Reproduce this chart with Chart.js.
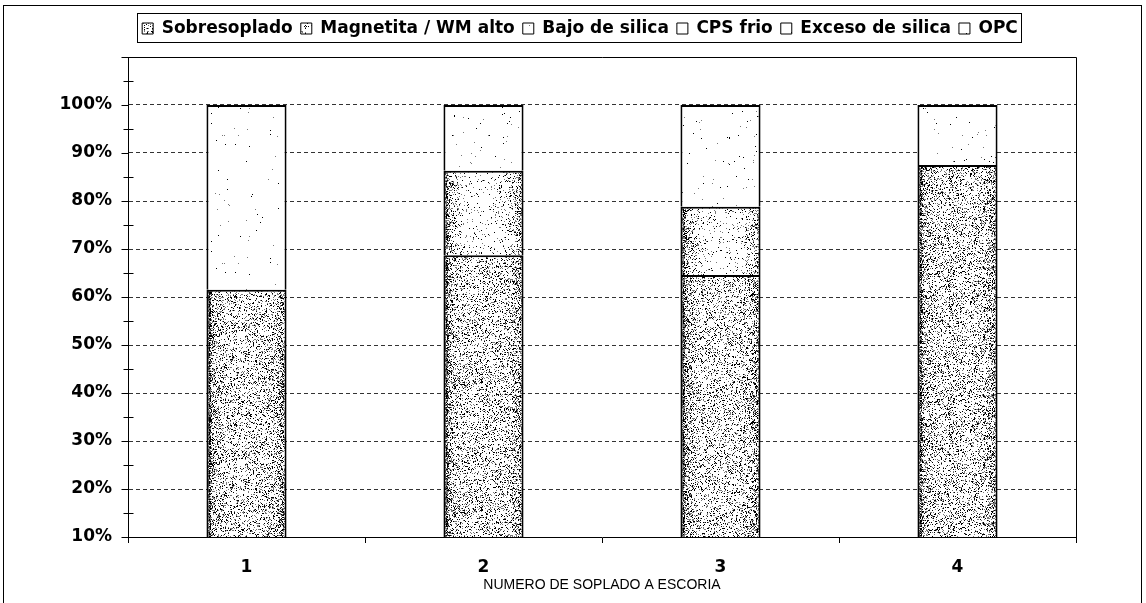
<!DOCTYPE html>
<html>
<head>
<meta charset="utf-8">
<script src="https://cdn.jsdelivr.net/npm/chart.js@4.4.0/dist/chart.umd.min.js"></script>
<style>
  html, body { margin: 0; padding: 0; background: #fff; }
  canvas { display: block; }
</style>
</head>
<body>
<canvas id="myChart" width="1146" height="603"></canvas>
<script>
const categories = ['1', '2', '3', '4'];
const seriesNames = ['Sobresoplado', 'Magnetita / WM alto', 'Bajo de silica', 'CPS frio', 'Exceso de silica', 'OPC'];
const sobresoplado = [61.5, 68.7, 64.6, 87.5];
const magnetita = [0, 17.6, 14.2, 0];
const bajoSilica = [0, 0, 0, 0];
const cpsFrio = [0, 0, 0, 0];
const excesoSilica = [0, 0, 0, 0];
const opc = [38.5, 13.7, 21.2, 12.5];
const yLabelValues = [10, 20, 30, 40, 50, 60, 70, 80, 90, 100];

const barPct = 0.338;

// stipple density across a bar (x in px from left edge, w = bar width)
const densities = [
  (x, w) => { const d = Math.min(x, w - 1 - x); return 0.22 + 0.45 * Math.exp(-d / 6) + (x < 4 ? 0.3 : 0); },
  (x, w) => { const d = Math.min(x, w - 1 - x); return 0.04 + 0.55 * Math.exp(-d / 9) + (x < 4 ? 0.3 : 0); },
  () => 0.004,
  () => 0.004,
  () => 0.004,
  () => 0.006,
];

function noise(x, y) {
  let h = (x * 374761393 + y * 668265263) | 0;
  h = Math.imul(h ^ (h >>> 13), 1274126177);
  return ((h ^ (h >>> 16)) >>> 0) / 4294967296;
}

const patternCache = {};
function stipplePattern(ctx2d, series, left, w) {
  const key = series + ':' + left + ':' + w;
  if (patternCache[key]) return patternCache[key];
  const h = 128;
  const tile = document.createElement('canvas');
  tile.width = w; tile.height = h;
  const t = tile.getContext('2d');
  const img = t.createImageData(w, h);
  for (let y = 0; y < h; y++) {
    for (let x = 0; x < w; x++) {
      const dens = densities[series](x, w);
      const n = noise(x + left * 3, y + series * 977);
      let v = 255;
      if (n < dens) v = n < dens * 0.5 ? 0 : 120;
      const i = (y * w + x) * 4;
      img.data[i] = img.data[i + 1] = img.data[i + 2] = v;
      img.data[i + 3] = 255;
    }
  }
  t.putImageData(img, 0, 0);
  const p = ctx2d.createPattern(tile, 'repeat');
  p.setTransform(new DOMMatrix().translate(left, 0));
  patternCache[key] = p;
  return p;
}

function barFill(c) {
  const chart = c.chart;
  const xs = chart.scales.x;
  const idx = c.dataIndex ?? 0;
  let w = 80, left = 0;
  if (xs && xs.width > 0) {
    w = Math.round(xs.width / categories.length * barPct);
    left = Math.round(xs.getPixelForValue(idx) - w / 2);
  }
  return stipplePattern(chart.ctx, c.datasetIndex, left, w);
}

const seriesData = [sobresoplado, magnetita, bajoSilica, cpsFrio, excesoSilica, opc];

const chartDecor = {
  id: 'chartDecor',
  beforeLayout(chart) {
    const lg = chart.legend;
    if (lg && !lg._fixed) {
      const fit = lg.fit;
      lg.fit = function () { fit.call(this); this.height = 45; };
      lg._fixed = true;
    }
  },
  afterLayout(chart) {
    // nudge the legend row a little to the right
    chart.legend.left += 22;
    chart.legend.right += 22;
  },
  afterDraw(chart) {
    const { ctx, chartArea: a } = chart;
    const y = chart.scales.y;
    ctx.save();
    ctx.strokeStyle = '#000';
    ctx.lineWidth = 1;
    // top and right edges of the plot
    ctx.beginPath();
    ctx.moveTo(a.left, Math.round(a.top) + 0.5);
    ctx.lineTo(Math.round(a.right) + 0.5, Math.round(a.top) + 0.5);
    ctx.lineTo(Math.round(a.right) + 0.5, a.bottom);
    ctx.stroke();
    // y tick marks, minor ones cross the axis
    const ax = Math.round(a.left) + 0.5;
    ctx.beginPath();
    y.ticks.forEach(t => {
      const py = Math.round(y.getPixelForValue(t.value)) + 0.5;
      if (t.value % 10 === 0) { ctx.moveTo(ax - 7, py); ctx.lineTo(ax, py); }
      else { ctx.moveTo(ax - 5, py); ctx.lineTo(ax + 5, py); }
    });
    ctx.stroke();
    // legend frame
    const hb = chart.legend.legendHitBoxes;
    if (hb && hb.length) {
      const first = hb[0], last = hb[hb.length - 1];
      const l = Math.round(first.left) - 4.5;
      const r = Math.round(last.left + last.width) + 3.5;
      const tp = Math.round(first.top) - 6.5;
      const bt = Math.round(first.top + first.height) + 5.5;
      ctx.strokeRect(l, tp, r - l, bt - tp);
    }
    // outer frame
    ctx.strokeRect(3.5, 5.5, 1138, 700);
    ctx.restore();
  }
};

const ctx = document.getElementById('myChart').getContext('2d');
new Chart(ctx, {
  type: 'bar',
  data: {
    labels: categories,
    datasets: seriesNames.map((name, i) => ({
      label: name,
      data: seriesData[i],
      backgroundColor: barFill,
      borderColor: '#000',
      borderWidth: (c) => (c.raw === 0 ? 0 : 2),
      barPercentage: barPct,
      categoryPercentage: 1,
    })),
  },
  options: {
    responsive: false,
    animation: false,
    devicePixelRatio: 1,
    layout: { padding: { top: 12, right: 70, bottom: 0, left: 40 } },
    plugins: {
      tooltip: { enabled: false },
      legend: {
        position: 'top',
        labels: {
          color: '#000',
          font: { family: 'DejaVu Sans', size: 17, weight: 'bold' },
          boxWidth: 11,
          boxHeight: 11,
          padding: 8,
          generateLabels: (chart) => Chart.defaults.plugins.legend.labels.generateLabels(chart)
            .map(l => ({ ...l, lineWidth: 1, strokeStyle: '#000' })),
        },
      },
    },
    scales: {
      x: {
        stacked: true,
        afterFit: (s) => { s.height = 66; },
        grid: { display: true, drawOnChartArea: false, drawTicks: true, tickLength: 6, color: '#000', offset: true },
        border: { display: true, color: '#000', width: 1 },
        ticks: { color: '#000', padding: 14, font: { family: 'DejaVu Sans', size: 17, weight: 'bold' } },
        title: {
          display: true,
          text: 'NUMERO DE SOPLADO A ESCORIA',
          color: '#000',
          font: { family: 'Liberation Sans', size: 14 },
          padding: { top: 0, bottom: 9 },
        },
      },
      y: {
        stacked: true,
        min: 10,
        max: 110,
        afterFit: (s) => { s.width = 88; },
        grid: {
          drawTicks: false,
          color: (c) => (c.tick && c.tick.value % 10 === 0 && c.tick.value >= 20 && c.tick.value <= 100 ? '#333' : 'rgba(0,0,0,0)'),
          lineWidth: 1,
        },
        border: { display: true, color: '#000', width: 1, dash: [4, 3] },
        ticks: {
          stepSize: 5,
          maxTicksLimit: 30,
          autoSkip: false,
          padding: 16,
          color: '#000',
          font: { family: 'DejaVu Sans', size: 17, weight: 'bold' },
          callback: (v) => (yLabelValues.includes(v) ? v + '%' : ''),
        },
      },
    },
  },
  plugins: [chartDecor],
});
</script>
</body>
</html>
